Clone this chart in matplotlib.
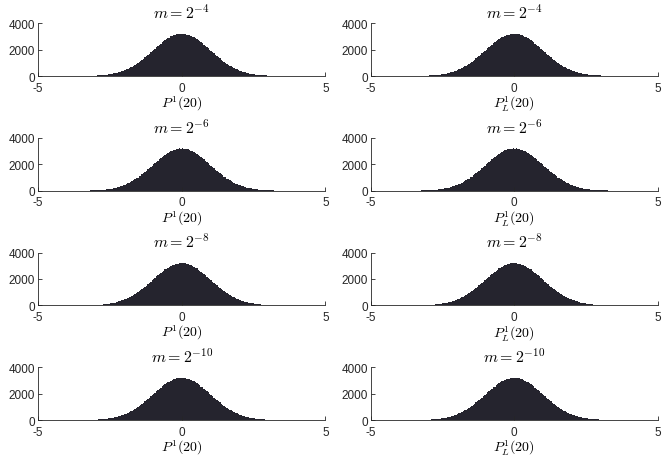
import numpy as np
import matplotlib
matplotlib.use("Agg")
import matplotlib.pyplot as plt

# histogram counts, bins of width 0.05 from -4 to 4
edges = np.round(np.linspace(-4.0, 4.0, 161), 3)

counts_left = [
    1, 1, 2, 3, 2, 4, 4, 5, 5, 7, 7, 10, 11, 12, 16, 17, 22, 23, 29, 32,
    39, 43, 52, 58, 70, 77, 91, 100, 118, 130, 152, 167, 194, 212, 243, 266, 304, 331, 376, 409,
    460, 498, 557, 601, 668, 719, 793, 851, 934, 995, 1086, 1153, 1252, 1325, 1430, 1505, 1615, 1693, 1806, 1886,
    2000, 2079, 2192, 2270, 2380, 2453, 2558, 2625, 2722, 2780, 2868, 2916, 2992, 3027, 3090, 3112, 3160, 3168, 3200, 3190,
    3206, 3184, 3182, 3143, 3128, 3074, 3043, 2976, 2932, 2851, 2796, 2706, 2641, 2542, 2469, 2363, 2286, 2176, 2095, 1984,
    1902, 1790, 1709, 1599, 1520, 1414, 1340, 1238, 1167, 1073, 1007, 921, 862, 783, 729, 658, 611, 547, 506, 451,
    416, 368, 339, 296, 272, 237, 217, 188, 172, 147, 134, 114, 104, 87, 80, 66, 61, 49, 45, 37,
    34, 27, 25, 20, 18, 14, 14, 10, 9, 7, 6, 4, 4, 3, 3, 2, 2, 1, 1, 1]

counts_right = [
    1, 2, 1, 2, 3, 3, 5, 4, 6, 6, 9, 8, 12, 13, 14, 19, 20, 25, 27, 34,
    37, 45, 50, 60, 67, 80, 88, 104, 114, 134, 148, 171, 189, 217, 238, 272, 297, 339, 369, 416,
    451, 506, 548, 611, 659, 729, 784, 861, 922, 1007, 1073, 1166, 1239, 1339, 1414, 1520, 1598, 1708, 1790, 1901,
    1985, 2094, 2176, 2286, 2363, 2469, 2542, 2640, 2706, 2796, 2852, 2932, 2975, 3044, 3073, 3128, 3143, 3183, 3184, 3212,
    3192, 3198, 3168, 3158, 3112, 3088, 3028, 2990, 2917, 2866, 2781, 2720, 2626, 2556, 2454, 2378, 2271, 2190, 2080, 1998,
    1887, 1804, 1694, 1613, 1506, 1428, 1326, 1250, 1155, 1084, 996, 932, 852, 792, 720, 667, 602, 556, 499, 459,
    410, 375, 333, 303, 267, 242, 213, 193, 168, 152, 131, 118, 101, 91, 78, 70, 67, 58, 52, 44,
    38, 32, 29, 23, 21, 17, 16, 12, 11, 8, 8, 5, 5, 4, 3, 3, 2, 2, 1, 1]

exponents = [4, 6, 8, 10]
xlabels = [r"$P^1(20)$", r"$P^1_L(20)$"]
xticks = [-5, 0, 5]
yticks = [0, 2000, 4000]

plt.rcParams['font.family'] = ['Liberation Sans', 'DejaVu Sans']
plt.rcParams['mathtext.fontset'] = 'cm'

fig = plt.figure(figsize=(6.64, 4.56), dpi=100)

lefts = [0.0572, 0.558]
bottoms = [0.831, 0.5795, 0.328, 0.0765]
w, h = 0.433, 0.116
bar_color = '#25242e'

for r, e in enumerate(exponents):
    for c in range(2):
        ax = fig.add_axes([lefts[c], bottoms[r], w, h])
        counts = counts_left if c == 0 else counts_right
        ax.bar(edges[:-1], counts, width=0.05, align='edge',
               color=bar_color, edgecolor='none')
        ax.set_xlim(-5, 5)
        ax.set_ylim(0, 4000)
        ax.set_xticks(xticks)
        ax.set_yticks(yticks)
        ax.set_xticklabels([str(t) for t in xticks])
        ax.tick_params(direction='in', length=3, width=0.6, labelsize=8.5,
                       colors='#262626')
        ax.tick_params(axis='x', pad=4)
        ax.tick_params(axis='y', pad=2)
        ax.spines['top'].set_visible(False)
        ax.spines['right'].set_visible(False)
        for s in ('left', 'bottom'):
            ax.spines[s].set_linewidth(0.6)
            ax.spines[s].set_color('#262626')
        ax.set_title(r"$m = 2^{-%d}$" % e, fontsize=11.5, pad=4)
        ax.set_xlabel(xlabels[c], fontsize=10, labelpad=0)

plt.savefig("out.png", dpi=100)
